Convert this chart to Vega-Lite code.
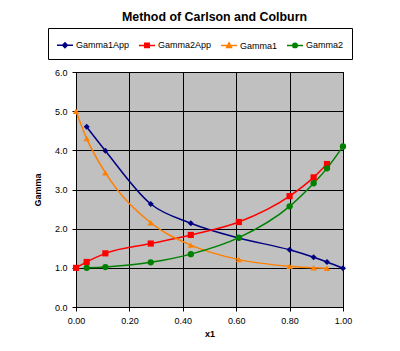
{
  "$schema": "https://vega.github.io/schema/vega-lite/v6.json",
  "autosize": "none",
  "width": 267,
  "height": 235,
  "padding": {"left": 76, "top": 72, "right": 57, "bottom": 44},
  "background": "white",
  "title": {
    "text": "Method of Carlson and Colburn",
    "font": "Liberation Sans",
    "fontSize": 12.4,
    "fontWeight": "bold",
    "color": "black",
    "anchor": "middle",
    "frame": "group",
    "dx": 5,
    "offset": 4
  },
  "data": {
    "values": [
      {"x1": 0.04, "series": "Gamma1App", "gamma": 4.6},
      {"x1": 0.11, "series": "Gamma1App", "gamma": 3.99},
      {"x1": 0.28, "series": "Gamma1App", "gamma": 2.63},
      {"x1": 0.43, "series": "Gamma1App", "gamma": 2.14},
      {"x1": 0.61, "series": "Gamma1App", "gamma": 1.76},
      {"x1": 0.80, "series": "Gamma1App", "gamma": 1.46},
      {"x1": 0.89, "series": "Gamma1App", "gamma": 1.27},
      {"x1": 0.94, "series": "Gamma1App", "gamma": 1.15},
      {"x1": 1.00, "series": "Gamma1App", "gamma": 0.99},
      {"x1": 0.00, "series": "Gamma2App", "gamma": 1.0},
      {"x1": 0.04, "series": "Gamma2App", "gamma": 1.15},
      {"x1": 0.11, "series": "Gamma2App", "gamma": 1.37},
      {"x1": 0.28, "series": "Gamma2App", "gamma": 1.62},
      {"x1": 0.43, "series": "Gamma2App", "gamma": 1.84},
      {"x1": 0.61, "series": "Gamma2App", "gamma": 2.17},
      {"x1": 0.80, "series": "Gamma2App", "gamma": 2.83},
      {"x1": 0.89, "series": "Gamma2App", "gamma": 3.31},
      {"x1": 0.94, "series": "Gamma2App", "gamma": 3.65},
      {"x1": 0.00, "series": "Gamma1", "gamma": 5.0},
      {"x1": 0.04, "series": "Gamma1", "gamma": 4.3},
      {"x1": 0.11, "series": "Gamma1", "gamma": 3.43},
      {"x1": 0.28, "series": "Gamma1", "gamma": 2.15},
      {"x1": 0.43, "series": "Gamma1", "gamma": 1.58},
      {"x1": 0.61, "series": "Gamma1", "gamma": 1.21},
      {"x1": 0.80, "series": "Gamma1", "gamma": 1.04},
      {"x1": 0.89, "series": "Gamma1", "gamma": 1.0},
      {"x1": 0.94, "series": "Gamma1", "gamma": 0.99},
      {"x1": 0.04, "series": "Gamma2", "gamma": 1.0},
      {"x1": 0.11, "series": "Gamma2", "gamma": 1.02},
      {"x1": 0.28, "series": "Gamma2", "gamma": 1.14},
      {"x1": 0.43, "series": "Gamma2", "gamma": 1.35},
      {"x1": 0.61, "series": "Gamma2", "gamma": 1.77},
      {"x1": 0.80, "series": "Gamma2", "gamma": 2.57},
      {"x1": 0.89, "series": "Gamma2", "gamma": 3.16},
      {"x1": 0.94, "series": "Gamma2", "gamma": 3.54},
      {"x1": 1.00, "series": "Gamma2", "gamma": 4.1}
    ]
  },
  "encoding": {
    "x": {
      "field": "x1", "type": "quantitative",
      "scale": {"domain": [0, 1], "nice": false},
      "axis": {
        "title": "x1", "values": [0, 0.2, 0.4, 0.6, 0.8, 1.0], "format": ".2f",
        "labelFlush": false,
        "titleFont": "Liberation Sans", "titleFontSize": 9, "titleFontWeight": "bold", "titleColor": "black",
        "titlePadding": 4,
        "labelFont": "Liberation Sans", "labelFontSize": 9, "labelColor": "black",
        "labelPadding": 5, "tickSize": 4, "tickColor": "black",
        "domainColor": "black", "gridColor": "black", "gridOpacity": 1, "gridWidth": 1
      }
    },
    "y": {
      "field": "gamma", "type": "quantitative",
      "scale": {"domain": [0, 6], "nice": false},
      "axis": {
        "title": "Gamma", "values": [0, 1, 2, 3, 4, 5, 6], "format": ".1f",
        "labelFlush": false,
        "titleFont": "Liberation Sans", "titleFontSize": 9, "titleFontWeight": "bold", "titleColor": "black",
        "titlePadding": 12,
        "labelFont": "Liberation Sans", "labelFontSize": 9, "labelColor": "black",
        "labelPadding": 5, "tickSize": 4, "tickColor": "black",
        "domainColor": "black", "gridColor": "black", "gridOpacity": 1, "gridWidth": 1
      }
    },
    "color": {
      "field": "series", "type": "nominal",
      "scale": {
        "domain": ["Gamma1App", "Gamma2App", "Gamma1", "Gamma2"],
        "range": ["#000080", "#FF0000", "#FF8000", "#008000"]
      },
      "legend": {
        "title": null,
        "orient": "none",
        "direction": "horizontal",
        "legendX": -28,
        "legendY": -44,
        "padding": 8,
        "strokeColor": "black",
        "fillColor": "white",
        "columnPadding": 6,
        "labelFont": "Liberation Sans",
        "labelFontSize": 9,
        "labelColor": "black",
        "labelOffset": 2,
        "symbolSize": 256,
        "symbolStrokeWidth": 1.5,
        "encode": {
          "symbols": {
            "update": {
              "shape": {"signal": "datum.value == 'Gamma1App' ? 'M-1,0H1M0,-0.3L0.3,0L0,0.3L-0.3,0Z' : datum.value == 'Gamma2App' ? 'M-1,0H1M-0.28,-0.28H0.28V0.28H-0.28Z' : datum.value == 'Gamma1' ? 'M-1,0H1M0,-0.32L0.3,0.24H-0.3Z' : 'M-1,0H1M0.28,0A0.28,0.28 0 1 1 -0.28,0A0.28,0.28 0 1 1 0.28,0Z'"},
              "fill": {"signal": "scale('color', datum.value)"},
              "stroke": {"signal": "scale('color', datum.value)"},
              "strokeWidth": {"value": 1.5},
              "opacity": {"value": 1}
            }
          }
        }
      }
    }
  },
  "layer": [
    {
      "mark": {"type": "line", "interpolate": "monotone", "strokeWidth": 1.5}
    },
    {
      "transform": [{"filter": "datum.series == 'Gamma1App'"}],
      "mark": {"type": "point", "filled": true, "opacity": 1, "shape": "diamond", "size": 36}
    },
    {
      "transform": [{"filter": "datum.series == 'Gamma2App'"}],
      "mark": {"type": "point", "filled": true, "opacity": 1, "shape": "square", "size": 38}
    },
    {
      "transform": [{"filter": "datum.series == 'Gamma1'"}],
      "mark": {"type": "point", "filled": true, "opacity": 1, "shape": "triangle-up", "size": 40}
    },
    {
      "transform": [{"filter": "datum.series == 'Gamma2'"}],
      "mark": {"type": "point", "filled": true, "opacity": 1, "shape": "circle", "size": 40}
    }
  ],
  "config": {
    "view": {"fill": "#C0C0C0", "stroke": "black", "strokeWidth": 1}
  }
}
